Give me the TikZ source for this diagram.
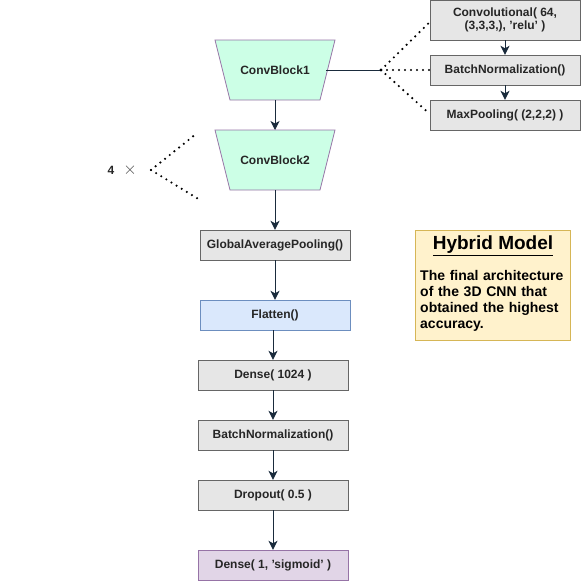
\documentclass[tikz,border=0pt]{standalone}
\usepackage{fontspec}
\setmainfont{Liberation Sans}
\usetikzlibrary{arrows.meta}
\definecolor{gfill}{HTML}{E6E6E6}
\definecolor{gdraw}{HTML}{666666}
\definecolor{tfill}{HTML}{CCFFE6}
\definecolor{pdraw}{HTML}{9673A6}
\definecolor{bfill}{HTML}{DAE8FC}
\definecolor{bdraw}{HTML}{6C8EBF}
\definecolor{vfill}{HTML}{E1D5E7}
\definecolor{yfill}{HTML}{FFF2CC}
\definecolor{ydraw}{HTML}{D6B656}
\definecolor{arr}{HTML}{1A2B3C}
\tikzset{
  layer/.style={draw=gdraw, fill=gfill, minimum width=150pt, minimum height=30pt, inner sep=0pt, font=\fontsize{12}{14}\selectfont\bfseries, text=black!85, align=center},
  convtxt/.style={minimum width=120pt, minimum height=60pt, inner sep=0pt, font=\fontsize{12}{14}\selectfont\bfseries, text=black!85},
  trap/.style={draw=pdraw, fill=tfill, line width=0.8pt},
  flow/.style={draw=arr, line width=1pt, -{Stealth[length=9pt,width=9pt,inset=2.5pt]}},
  dots/.style={draw=black, line width=2.4pt, line cap=round, dash pattern=on 0pt off 6pt}
}
\begin{document}
\begin{tikzpicture}[x=1pt,y=-1pt]
\useasboundingbox (0,0) rectangle (581,581);
% trapezoids
\filldraw[trap] (215,40) -- (335,40) -- (320,100) -- (230,100) -- cycle;
\filldraw[trap] (215,130) -- (335,130) -- (320,190) -- (230,190) -- cycle;
\node[convtxt] (cb1) at (275,70) {ConvBlock1};
\node[convtxt] (cb2) at (275,160) {ConvBlock2};
% main column
\node[layer] (gap) at (275,245) {GlobalAveragePooling()};
\node[layer, fill=bfill, draw=bdraw] (fl) at (275,315) {Flatten()};
\node[layer] (d1) at (273,375) {Dense( 1024 )};
\node[layer] (bn) at (273,435) {BatchNormalization()};
\node[layer] (do) at (273,495) {Dropout( 0.5 )};
\node[layer, fill=vfill, draw=pdraw] (d2) at (273,565) {Dense( 1, 'sigmoid' )};
% right column
\node[layer, minimum height=40pt, font=\fontsize{12}{13}\selectfont\bfseries] (c) at (505,20) {Convolutional( 64,\\(3,3,3,), 'relu' )};
\node[layer] (bn1) at (505,70) {BatchNormalization()};
\node[layer] (mp) at (505,115) {MaxPooling( (2,2,2) )};
% note
\node[draw=ydraw, fill=yfill, minimum width=155pt, minimum height=110pt, inner sep=0pt] (note) at (492.5,285) {};
\node[font=\fontsize{19}{21}\selectfont\bfseries, anchor=north, inner sep=0pt] (title) at (493,236) {\underline{Hybrid Model}};
\node[font=\fontsize{14}{16}\selectfont\bfseries, align=left, anchor=north west, text width=150pt, inner sep=0pt] (body) at (420,270) {The final architecture of the 3D CNN that obtained the highest accuracy.};
% 4 x
\node[font=\fontsize{12}{14}\selectfont\bfseries, text=black!85] (four) at (111,170) {4};
\node[font=\fontsize{16}{16}\selectfont, text=black!70] (times) at (130,170) {$\times$};
\coordinate (k) at (151,170);
\coordinate (k1) at (196,134);
\coordinate (k2) at (200,200);
\draw[dots] (k) -- (k1);
\draw[dots] (k) -- (k2);
% arrows
\draw[flow] (275,100) -- (275,130);
\draw[flow] (cb2.south) -- (gap.north);
\draw[flow] (gap.south) -- (fl.north);
\draw[flow] (273,330) -- (d1.north);
\draw[flow] (d1.south) -- (bn.north);
\draw[flow] (bn.south) -- (do.north);
\draw[flow] (do.south) -- (d2.north);
\draw[flow] (c.south) -- (bn1.north);
\draw[flow] (bn1.south) -- (mp.north);
% expansion
\coordinate (hub) at (381,70);
\draw[line width=1pt, draw=arr] (326,70) -- (hub);
\fill[arr] (hub) circle (1.6pt);
\draw[dots] (hub) -- (c.west |- 0,22);
\draw[dots] (hub) -- (bn1.west);
\draw[dots] (hub) -- (mp.west |- 0,114);
\end{tikzpicture}
\end{document}
